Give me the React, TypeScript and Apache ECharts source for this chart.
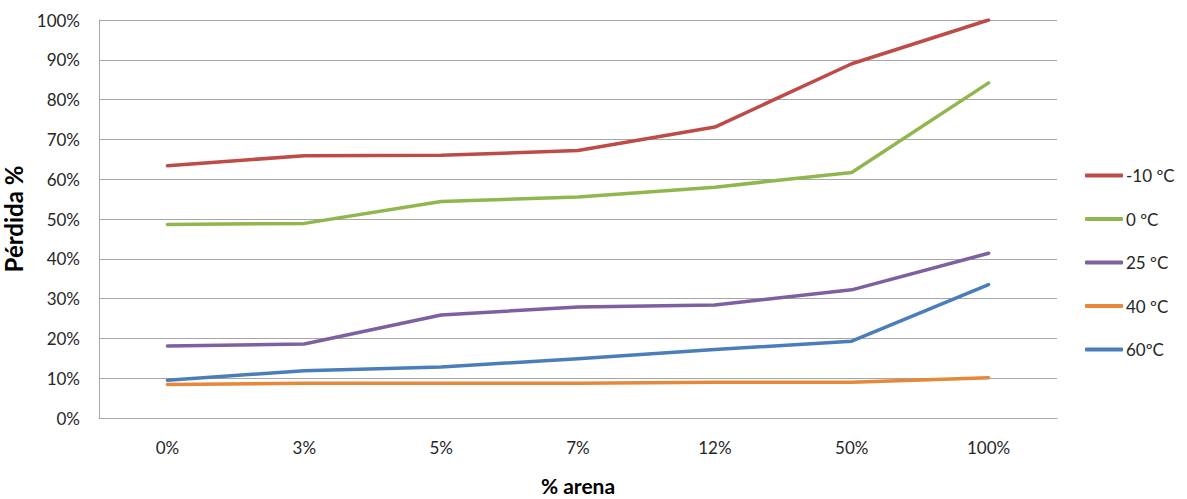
import React, { useEffect, useRef } from "react";
import * as echarts from "echarts";

const categories = ["0%", "3%", "5%", "7%", "12%", "50%", "100%"];
const seriesNames = ["-10 ºC", "0 ºC", "25 ºC", "40 ºC", "60ºC"];
const minus10 = [63.4, 65.9, 66.0, 67.2, 73.1, 89.0, 100];
const zero = [48.6, 48.9, 54.4, 55.5, 58.0, 61.7, 84.2];
const twentyFive = [18.1, 18.6, 25.9, 27.9, 28.4, 32.2, 41.4];
const forty = [8.4, 8.7, 8.7, 8.7, 9.0, 9.0, 10.1];
const sixty = [9.5, 11.9, 12.8, 14.9, 17.2, 19.3, 33.5];
const colors = ["#BE4B48", "#8FB74E", "#7D60A0", "#E6873A", "#4A7EBB"];

export default function App() {
  const ref = useRef<HTMLDivElement>(null);
  useEffect(() => {
    if (!ref.current) return;
    const chart = echarts.init(ref.current, undefined, { renderer: "svg" });
    const values = [minus10, zero, twentyFive, forty, sixty];
    chart.setOption({
      animation: false,
      backgroundColor: "#ffffff",
      textStyle: { fontFamily: "Lato" },
      grid: { left: 99, right: 130, top: 20, bottom: 81, outerBoundsMode: "none" },
      legend: {
        orient: "vertical",
        left: 1085,
        top: 167,
        padding: 0,
        itemWidth: 38,
        itemHeight: 4,
        itemGap: 26.5,
        icon: "roundRect",
        textStyle: { fontFamily: "Lato", fontSize: 17, color: "#262626", padding: [0, 0, 0, -2] },
        data: seriesNames,
      },
      xAxis: {
        type: "category",
        data: categories,
        boundaryGap: true,
        name: "% arena",
        nameLocation: "middle",
        nameGap: 57,
        nameTextStyle: { fontFamily: "Lato", fontSize: 21, fontWeight: "bold", color: "#000" },
        axisLine: { lineStyle: { color: "#a6a6a6" } },
        axisTick: { show: false },
        axisLabel: { fontFamily: "Lato", fontSize: 17, color: "#262626", margin: 21 },
      },
      yAxis: {
        type: "value",
        min: 0,
        max: 100,
        interval: 10,
        name: "Pérdida %",
        nameLocation: "middle",
        nameGap: 62,
        nameTextStyle: { fontFamily: "Lato", fontSize: 24, fontWeight: "bold", color: "#000" },
        axisLine: { show: true, lineStyle: { color: "#a6a6a6" } },
        axisTick: { show: false },
        axisLabel: { fontFamily: "Lato", fontSize: 17, color: "#262626", margin: 19, formatter: "{value}%" },
        splitLine: { lineStyle: { color: "#a6a6a6", width: 1 } },
      },
      series: seriesNames.map((name, i) => ({
        name,
        type: "line",
        data: values[i],
        symbol: "none",
        color: colors[i],
        lineStyle: { width: 3.5, color: colors[i], cap: "round", join: "round" },
      })),
    });
    return () => chart.dispose();
  }, []);
  return (
    <div
      ref={ref}
      style={{ position: "fixed", left: 0, top: 0, width: 1187, height: 499 }}
    />
  );
}
